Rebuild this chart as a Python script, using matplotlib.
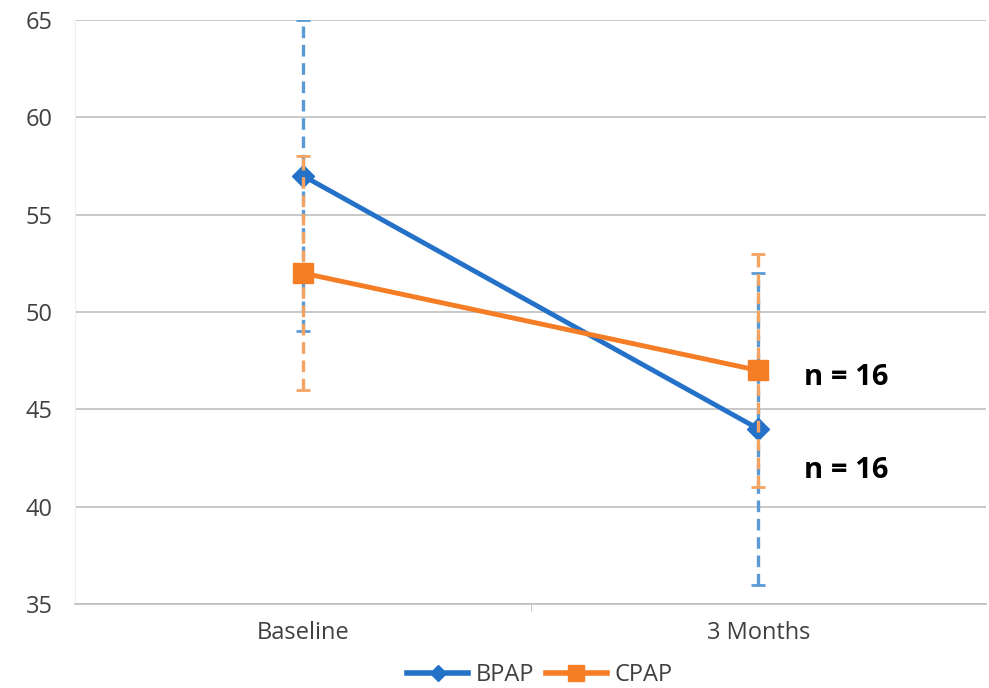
import matplotlib.pyplot as plt
from matplotlib.lines import Line2D
import numpy as np

# data
categories = ['Baseline', '3 Months']
bpap_mean = [57, 44]
bpap_err = [8, 8]
cpap_mean = [52, 47]
cpap_err = [6, 6]
n_labels = ['n = 16', 'n = 16']

plt.rcParams['font.family'] = ['Open Sans', 'DejaVu Sans']

fig = plt.figure(figsize=(9.89, 6.88), dpi=100)
ax = fig.add_axes([0.076, 0.122, 0.921, 0.849])

x = np.arange(len(categories))

blue = '#2472C8'
blue_light = '#5B9BD5'
orange = '#F47D25'
orange_light = '#F4A460'


def draw_series(mean, err, color, ecolor, marker, msize, z):
    line, caps, bars = ax.errorbar(x, mean, yerr=err, color=color, ecolor=ecolor,
                                   elinewidth=2.4, capsize=5, capthick=2,
                                   marker=marker, markersize=msize, linewidth=3.5,
                                   zorder=z)
    bars[0].set_linestyle((0, (3.5, 2)))
    return line


draw_series(bpap_mean, bpap_err, blue, blue_light, 'D', 11, 3)
draw_series(cpap_mean, cpap_err, orange, orange_light, 's', 14, 4)

ax.set_xlim(-0.5, 1.5)
ax.set_ylim(35, 65)
ax.set_yticks(np.arange(35, 66, 5))
ax.set_xticks(x)
ax.set_xticklabels(categories)
ax.set_xticks([0.5], minor=True)
ax.tick_params(axis='y', length=0, labelsize=17, colors='#404040', pad=16)
ax.tick_params(axis='x', which='major', length=0, labelsize=17, colors='#404040', pad=12)
ax.tick_params(axis='x', which='minor', length=5, color='#BFBFBF')
ax.grid(axis='y', color='#BFBFBF', linewidth=1.2)
ax.set_axisbelow(True)
for s in ['top', 'right']:
    ax.spines[s].set_visible(False)
ax.spines['left'].set_color('#F0F0F0')
ax.spines['bottom'].set_color('#BFBFBF')
ax.spines['bottom'].set_linewidth(1.2)

# n labels beside the 3 Months points
ax.text(1.1, 46.65, n_labels[0], fontsize=21, fontweight='bold', va='center', ha='left')
ax.text(1.1, 41.85, n_labels[1], fontsize=21, fontweight='bold', va='center', ha='left')

handles = [Line2D([], [], color=blue, marker='D', markersize=8, linewidth=4),
           Line2D([], [], color=orange, marker='s', markersize=11, linewidth=4)]
ax.legend(handles, ['BPAP', 'CPAP'], loc='center', bbox_to_anchor=(0.51, -0.122),
          ncol=2, frameon=False, fontsize=17, handlelength=2.6, columnspacing=0.5,
          handletextpad=0.3, labelcolor='#404040', borderpad=0)

fig.savefig('out.png', dpi=100)
